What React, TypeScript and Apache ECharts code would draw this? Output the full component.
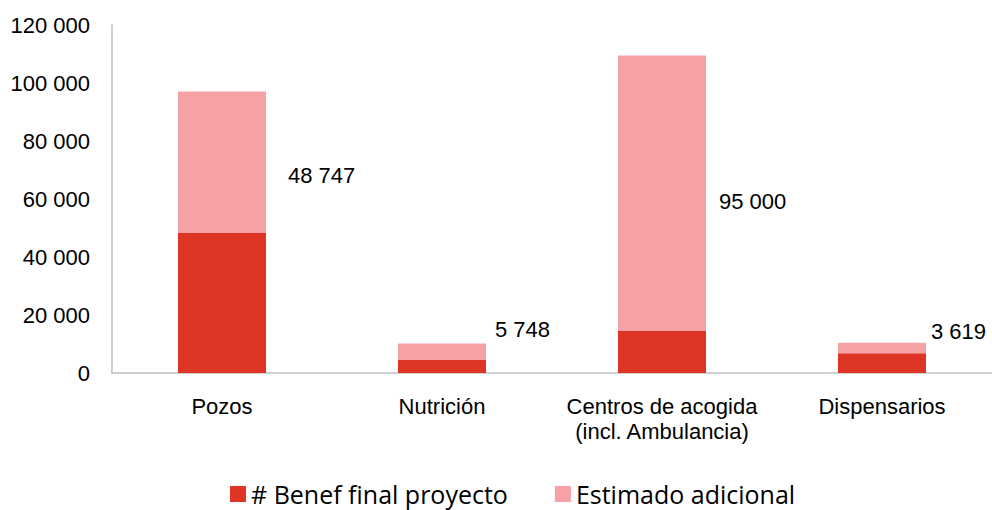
import React, { useEffect, useRef } from "react";
import * as echarts from "echarts";

const categories = ["Pozos", "Nutrición", "Centros de acogida\n(incl. Ambulancia)", "Dispensarios"];
const benefFinal = [48300, 4450, 14500, 6800];
const estimadoAdicional = [48747, 5748, 95000, 3619];
const seriesNames = ["# Benef final proyecto", "Estimado adicional"];
const yTicks = { min: 0, max: 120000, interval: 20000 };

// label placement tweaks (style only)
const labelOffsets: [number, number][] = [
  [17, 13],
  [4, -22],
  [8, 8],
  [0, -17],
];

const fmt = (v: number) => String(Math.round(v)).replace(/\B(?=(\d{3})+(?!\d))/g, " ");

export default function App() {
  const ref = useRef<HTMLDivElement>(null);
  useEffect(() => {
    if (!ref.current) return;
    const chart = echarts.init(ref.current, null, { renderer: "svg" });
    const font = "'Liberation Sans', Arial, Helvetica, sans-serif";
    chart.setOption({
      animation: false,
      backgroundColor: "#ffffff",
      textStyle: { fontFamily: font },
      grid: { left: 112, right: 0, top: 25, bottom: 137, containLabel: false },
      legend: {
        top: 475,
        left: 225,
        padding: 5,
        icon: "rect",
        itemWidth: 16,
        itemHeight: 16,
        itemGap: 47,
        textStyle: { fontFamily: "'Open Sans', sans-serif", fontSize: 25, lineHeight: 28, color: "#000" },
        data: seriesNames,
      },
      xAxis: {
        type: "category",
        data: categories,
        axisLine: { lineStyle: { color: "#bfbfbf", width: 1.5 } },
        axisTick: { show: false },
        axisLabel: { color: "#000", fontSize: 22, margin: 21, lineHeight: 25, fontFamily: font, interval: 0 },
      },
      yAxis: {
        type: "value",
        min: yTicks.min,
        max: yTicks.max,
        interval: yTicks.interval,
        axisLine: { show: true, lineStyle: { color: "#bfbfbf", width: 1.5 } },
        axisTick: { show: false },
        splitLine: { show: false },
        axisLabel: { color: "#000", fontSize: 22, margin: 22, fontFamily: font, formatter: (v: number) => fmt(v) },
      },
      series: [
        {
          name: seriesNames[0],
          type: "bar",
          stack: "total",
          barWidth: "40%",
          itemStyle: { color: "#de3526" },
          data: benefFinal,
        },
        {
          name: seriesNames[1],
          type: "bar",
          stack: "total",
          barWidth: "40%",
          itemStyle: { color: "#f6a2a5" },
          data: estimadoAdicional.map((v, i) => ({
            value: v,
            label: {
              show: true,
              position: "right",
              distance: 5,
              offset: labelOffsets[i],
              color: "#000",
              fontSize: 22,
              fontFamily: font,
              formatter: (p: any) => fmt(p.value),
            },
          })),
        },
      ],
    });
    return () => chart.dispose();
  }, []);
  return (
    <div
      ref={ref}
      style={{ position: "fixed", left: 0, top: 0, width: 992, height: 510 }}
    />
  );
}
